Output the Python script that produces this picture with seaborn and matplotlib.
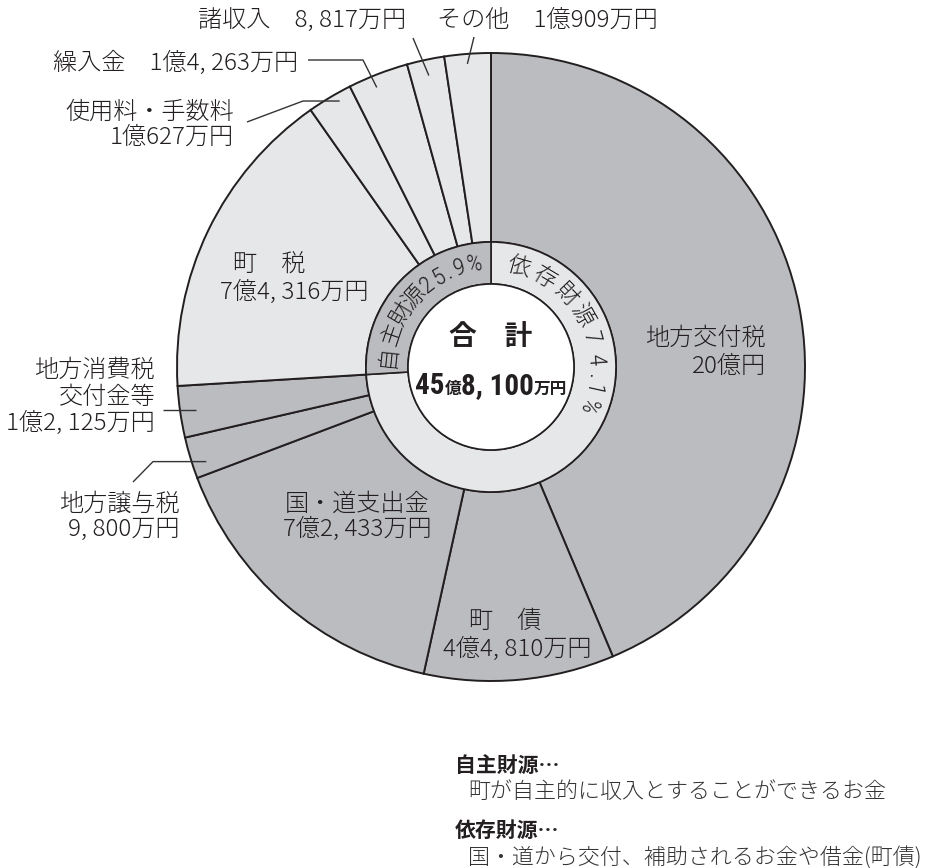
import re
import numpy as np
import matplotlib
matplotlib.use("Agg")
import matplotlib.pyplot as plt
from matplotlib.patches import Circle
from matplotlib import font_manager as fm
import seaborn as sns

# ---------------- data ----------------
categories = ["地方交付税", "町　債", "国・道支出金", "地方譲与税", "地方消費税\n交付金等",
              "町　税", "使用料・手数料", "繰入金", "諸収入", "その他"]
values = [200000, 44810, 72433, 9800, 12125, 74316, 10627, 14263, 8817, 10909]  # 万円
groups = ["依存財源", "依存財源", "依存財源", "依存財源", "依存財源",
          "自主財源", "自主財源", "自主財源", "自主財源", "自主財源"]
group_names = ["依存財源", "自主財源"]
group_pct = [74.1, 25.9]
center_title = "合　計"
notes_head = ["自主財源…", "依存財源…"]
notes_body = ["町が自主的に収入とすることができるお金",
              "国・道から交付、補助されるお金や借金(町債)"]

# ---------------- style ----------------
sns.set_theme(style="white")
plt.rcParams['font.family'] = ['Noto Sans CJK JP', 'DejaVu Sans']

names = {f.name for f in fm.fontManager.ttflist}
COND = None
for cand in ["Roboto Condensed", "Liberation Sans Narrow", "Open Sans Condensed"]:
    if cand in names:
        COND = cand
        break

W, H = 925, 868
fig = plt.figure(figsize=(W / 100, H / 100), dpi=100)
ax = fig.add_axes([0, 0, 1, 1])

CX, CY = 491, H - 367
R_OUT, R_MID, R_IN = 314, 125, 83
DARK = "#bbbcbf"
LIGHT = "#e6e7e8"
EDGE = "#231f20"
TXT = "#231f20"

def Y(y):
    return H - y

def fmt_man(v):
    oku, man = divmod(v, 10000)
    s = f"{oku}億" if oku else ""
    if man:
        s += f"{man:,}".replace(",", ", ") + "万円"
    else:
        s += "円"
    return s

colors = [DARK if g == group_names[0] else LIGHT for g in groups]
ax.pie(values, radius=R_OUT, center=(CX, CY), startangle=90, counterclock=False,
       colors=colors, wedgeprops=dict(width=R_OUT - R_MID, edgecolor=EDGE, linewidth=1.4))

grp_vals = [sum(v for v, g in zip(values, groups) if g == name) for name in group_names]
ax.pie(grp_vals, radius=R_MID, center=(CX, CY), startangle=90, counterclock=False,
       colors=[LIGHT, DARK], wedgeprops=dict(width=R_MID - R_IN, edgecolor=EDGE, linewidth=1.2))
ax.add_patch(Circle((CX, CY), R_IN, facecolor="white", edgecolor=EDGE, linewidth=1.2, zorder=3))

ax.set_xlim(0, W)
ax.set_ylim(0, H)
ax.axis("off")

total = sum(values)
cum = np.concatenate([[0], np.cumsum(values)])

def slice_point(i, frac, r):
    th = np.deg2rad(360.0 * (cum[i] + frac * values[i]) / total)
    return CX + r * np.sin(th), CY + r * np.cos(th)

FS = 17.4
def T(x, y, s, **kw):
    kw.setdefault("fontsize", FS)
    kw.setdefault("color", TXT)
    kw.setdefault("va", "center")
    kw.setdefault("fontweight", "light")
    return ax.text(x, Y(y), s, **kw)

vals = [fmt_man(v) for v in values]
idx = {c.replace("\n", ""): i for i, c in enumerate(categories)}

# labels inside
i = idx["地方交付税"]
T(766, 338, categories[i], ha="right"); T(766, 366, vals[i], ha="right")
i = idx["町　債"]
T(505, 621, categories[i], ha="center"); T(517, 649, vals[i], ha="center")
i = idx["国・道支出金"]
T(357, 504, categories[i], ha="center"); T(357, 529, vals[i], ha="center")
i = idx["町　税"]
T(233, 265, categories[i], ha="left"); T(369, 292, vals[i], ha="right")

# labels outside
i = idx["地方譲与税"]
T(180, 504, categories[i], ha="right"); T(180, 529, vals[i], ha="right")
i = idx["地方消費税交付金等"]
l1, l2 = categories[i].split("\n")
T(155, 370, l1, ha="right"); T(155, 397, l2, ha="right"); T(155, 423, vals[i], ha="right")
i = idx["使用料・手数料"]
T(234, 112, categories[i], ha="right"); T(234, 137, vals[i], ha="right")
i = idx["繰入金"]
T(298, 63, categories[i] + "\u3000" + vals[i], ha="right")
i = idx["諸収入"]
T(406, 20, categories[i] + "\u3000" + vals[i], ha="right")
i = idx["その他"]
T(437, 20, categories[i] + "\u3000" + vals[i], ha="left")

# leader lines
LC = "#333333"
def leader(pts_pix, i, frac, r, horiz_end=False):
    ex, ey = slice_point(i, frac, r)
    xs = [p[0] for p in pts_pix]
    ys = [Y(p[1]) for p in pts_pix]
    if horiz_end:
        ys = [ey if k == len(ys) - 1 else yy for k, yy in enumerate(ys)]
    ax.plot(xs + [ex], ys + [ey], color=LC, lw=1.0, zorder=4, solid_capstyle="butt")

leader([(413, 38)], idx["諸収入"], 0.5, 298)
leader([(474, 37)], idx["その他"], 0.48, 304)
leader([(308, 60), (363, 60)], idx["繰入金"], 0.4, 302)
leader([(247, 122), (303, 100)], idx["使用料・手数料"], 0.65, 306, horiz_end=True)
leader([(163, 411)], idx["地方消費税交付金等"], 0.5, 298, horiz_end=True)
leader([(133, 482), (153, 460)], idx["地方譲与税"], 0.3, 300, horiz_end=True)

# ring text (characters placed along the ring)
R_TXT = 104
ring_angles = {
    group_names[0]: [15.6, 31, 46, 60.5, 74, 86, 95, 102.5, 112],
    group_names[1]: [-84, -71.5, -59.5, -47.5, -38, -30, -24, -17.5, -9],
}
for name, pct in zip(group_names, group_pct):
    s = f"{name}{pct}%"
    for ch, a in zip(s, ring_angles[name]):
        th = np.deg2rad(a)
        x = CX + R_TXT * np.sin(th)
        y = CY + R_TXT * np.cos(th)
        kw = {}
        if not ch.isascii():
            fsz = 16.5
        else:
            fsz = 17.5
            if COND:
                kw["family"] = [COND, "Noto Sans CJK JP"]
        ax.text(x, y, ch, fontsize=fsz, color=TXT, rotation=-a, rotation_mode="anchor",
                ha="center", va="center", zorder=5, fontweight="light", **kw)

# center text
ax.text(CX, Y(337), center_title, fontsize=20, fontweight="bold", color=TXT,
        ha="center", va="center", zorder=5)
pieces = re.findall(r"[0-9,]+|[^0-9,]+", fmt_man(total).replace(", ", ","))
renderer = fig.canvas.get_renderer()
objs = []
for p in pieces:
    big = p[0].isdigit()
    kw = {}
    if big and COND:
        kw["family"] = [COND, "Noto Sans CJK JP"]
        fsz = 21
    elif big:
        fsz = 16
    else:
        fsz = 12
    t = ax.text(0, Y(394), p.replace(",", ", ") if big else p,
                fontsize=fsz, fontweight="bold", color=TXT,
                ha="left", va="baseline", zorder=5, **kw)
    objs.append(t)
widths = [o.get_window_extent(renderer).width for o in objs]
x0 = CX - sum(widths) / 2
for o, w in zip(objs, widths):
    o.set_x(x0)
    x0 += w

# notes
for k, (hd, bd) in enumerate(zip(notes_head, notes_body)):
    yh = 765 + k * 65
    ax.text(455, Y(yh), hd, fontsize=15, fontweight="bold", color=TXT, ha="left", va="center")
    ax.text(468, Y(yh + 27), bd, fontsize=15.8, color="#333333", ha="left", va="center",
            fontweight="light")

fig.savefig("out.png", dpi=100, facecolor="white")
